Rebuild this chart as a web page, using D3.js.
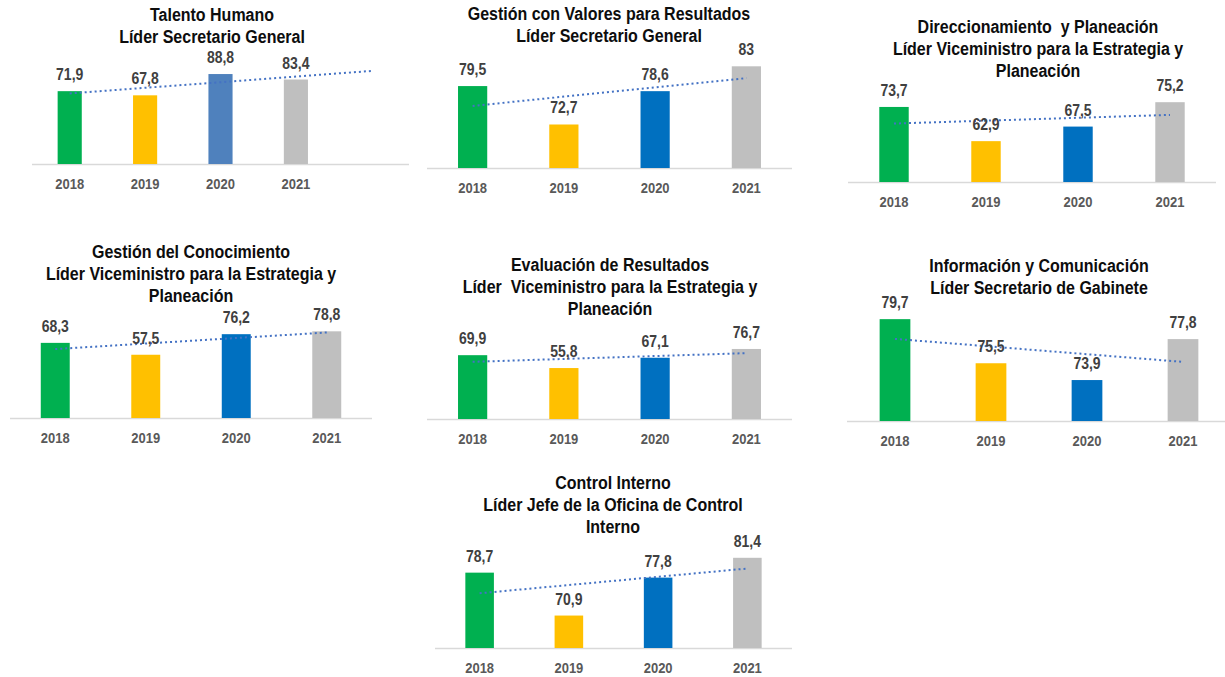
<!DOCTYPE html>
<html>
<head>
<meta charset="utf-8">
<script src="https://cdn.jsdelivr.net/npm/d3@7"></script>
<style>
  body { margin: 0; background: #fff; }
  svg { display: block; font-family: "Liberation Sans", Arial, sans-serif; }
</style>
</head>
<body>
<div id="window"></div>
<script>
// data
const years = ['2018', '2019', '2020', '2021'];
const talentoHumano = [71.9, 67.8, 88.8, 83.4];
const gestionValores = [79.5, 72.7, 78.6, 83];
const direccionamiento = [73.7, 62.9, 67.5, 75.2];
const gestionConocimiento = [68.3, 57.5, 76.2, 78.8];
const evaluacionResultados = [69.9, 55.8, 67.1, 76.7];
const informacionComunicacion = [79.7, 75.5, 73.9, 77.8];
const controlInterno = [78.7, 70.9, 77.8, 81.4];

const titleTalento = ['Talento Humano', 'Líder Secretario General'];
const titleValores = ['Gestión con Valores para Resultados', 'Líder Secretario General'];
const titleDirecc = ['Direccionamiento\u00a0 y Planeación', 'Líder Viceministro para la Estrategia y', 'Planeación'];
const titleConoc = ['Gestión del Conocimiento', 'Líder Viceministro para la Estrategia y', 'Planeación'];
const titleEval = ['Evaluación de Resultados', 'Líder\u00a0 Viceministro para la Estrategia y', 'Planeación'];
const titleInfo = ['Información y Comunicación', 'Líder Secretario de Gabinete'];
const titleControl = ['Control Interno', 'Líder Jefe de la Oficina de Control', 'Interno'];

// value axis bounds of each little chart (Excel auto axis)
const yTalento = [0, 100];
const yValores = [65, 85];
const yDirecc = [50, 80];
const yConoc = [0, 100];
const yEval = [0, 100];
const yInfo = [70, 82];
const yControl = [65, 85];

const barColors = ['#00B050', '#FFC000', '#0070C0', '#BFBFBF'];
const barColorsTalento = ['#00B050', '#FFC000', '#4F81BD', '#BFBFBF'];

// layout: x0/x1 = category axis extent, base = axis y, top = y of axis max
const panels = [
  {values: talentoHumano, title: titleTalento, yDom: yTalento, colors: barColorsTalento,
   x0: 32, x1: 409, slots: 5, forward: 1, base: 164, top: 62.7, tx: 212, ty: 21},
  {values: gestionValores, title: titleValores, yDom: yValores, colors: barColors,
   x0: 427, x1: 792, slots: 4, forward: 0, base: 168, top: 55, tx: 609, ty: 20},
  {values: direccionamiento, title: titleDirecc, yDom: yDirecc, colors: barColors,
   x0: 848, x1: 1216, slots: 4, forward: 0, base: 182, top: 87, tx: 1038, ty: 33},
  {values: gestionConocimiento, title: titleConoc, yDom: yConoc, colors: barColors,
   x0: 10, x1: 372, slots: 4, forward: 0, base: 418, top: 308, tx: 191, ty: 258},
  {values: evaluacionResultados, title: titleEval, yDom: yEval, colors: barColors,
   x0: 427, x1: 792, slots: 4, forward: 0, base: 419, top: 327.7, tx: 610, ty: 271},
  {values: informacionComunicacion, title: titleInfo, yDom: yInfo, colors: barColors,
   x0: 847, x1: 1231, slots: 4, forward: 0, base: 421, top: 295, tx: 1039, ty: 272},
  {values: controlInterno, title: titleControl, yDom: yControl, colors: barColors,
   x0: 435, x1: 792, slots: 4, forward: 0, base: 648, top: 538, tx: 613, ty: 489}
];

const fmt = v => String(v).replace('.', ',');
const stretch = 1.14; // the source picture is a bit taller than wide

// least squares line through (index, value)
function trend(vals){
  const mx = d3.mean(vals, (d, i) => i);
  const my = d3.mean(vals);
  let sxy = 0, sxx = 0;
  vals.forEach((v, i) => { sxy += (i - mx) * (v - my); sxx += (i - mx) * (i - mx); });
  const slope = sxy / sxx;
  return i => my + slope * (i - mx);
}

const svg = d3.select('#window').append('svg')
  .attr('width', 1225).attr('height', 677);

panels.forEach(p => {
  const g = svg.append('g');
  const step = (p.x1 - p.x0) / p.slots;
  const x = d3.scaleBand()
    .domain(years)
    .range([p.x0, p.x0 + step * years.length])
    .paddingInner(0.68)
    .paddingOuter(0.34);
  const y = d3.scaleLinear().domain(p.yDom).range([p.base, p.top]);
  const cx = d => x(d) + x.bandwidth() / 2;

  // title
  g.append('text')
    .attr('transform', `translate(${p.tx},${p.ty}) scale(1,${stretch})`)
    .attr('text-anchor', 'middle')
    .attr('font-size', 16).attr('font-weight', 'bold').attr('fill', '#0d0d0d')
    .selectAll('tspan').data(p.title).join('tspan')
    .attr('x', 0).attr('dy', (d, i) => i ? 22 / stretch : 0)
    .text(d => d);

  // category axis
  const axis = g.append('g')
    .attr('transform', `translate(0,${p.base})`)
    .call(d3.axisBottom(x).tickSize(0).tickPadding(0));
  axis.select('.domain').attr('d', `M${p.x0},0.5H${p.x1}`).attr('stroke', '#D9D9D9').attr('stroke-width', 1.3);
  axis.selectAll('text')
    .attr('dy', null).attr('y', 0)
    .attr('transform', `translate(0,25) scale(1,${stretch})`)
    .attr('font-family', '"Liberation Sans", Arial, sans-serif')
    .attr('font-size', 13).attr('font-weight', 'bold').attr('fill', '#595959');

  // bars
  g.selectAll('rect').data(p.values).join('rect')
    .attr('x', (d, i) => x(years[i]))
    .attr('y', d => y(d))
    .attr('width', x.bandwidth())
    .attr('height', d => y(p.yDom[0]) - y(d))
    .attr('fill', (d, i) => p.colors[i]);

  // linear trendline, dotted
  const f = trend(p.values);
  const last = years.length - 1 + p.forward;
  g.append('line')
    .attr('x1', cx(years[0])).attr('y1', y(f(0)))
    .attr('x2', cx(years[0]) + step * last).attr('y2', y(f(last)))
    .attr('stroke', '#4472C4').attr('stroke-width', 2)
    .attr('stroke-dasharray', '2,3');

  // value labels
  g.selectAll('.val').data(p.values).join('text')
    .attr('class', 'val')
    .attr('transform', (d, i) => `translate(${cx(years[i])},${y(d) - 11}) scale(1,${stretch})`)
    .attr('text-anchor', 'middle')
    .attr('font-size', 14).attr('font-weight', 'bold').attr('fill', '#404040')
    .text(d => fmt(d));
});
</script>
</body>
</html>
